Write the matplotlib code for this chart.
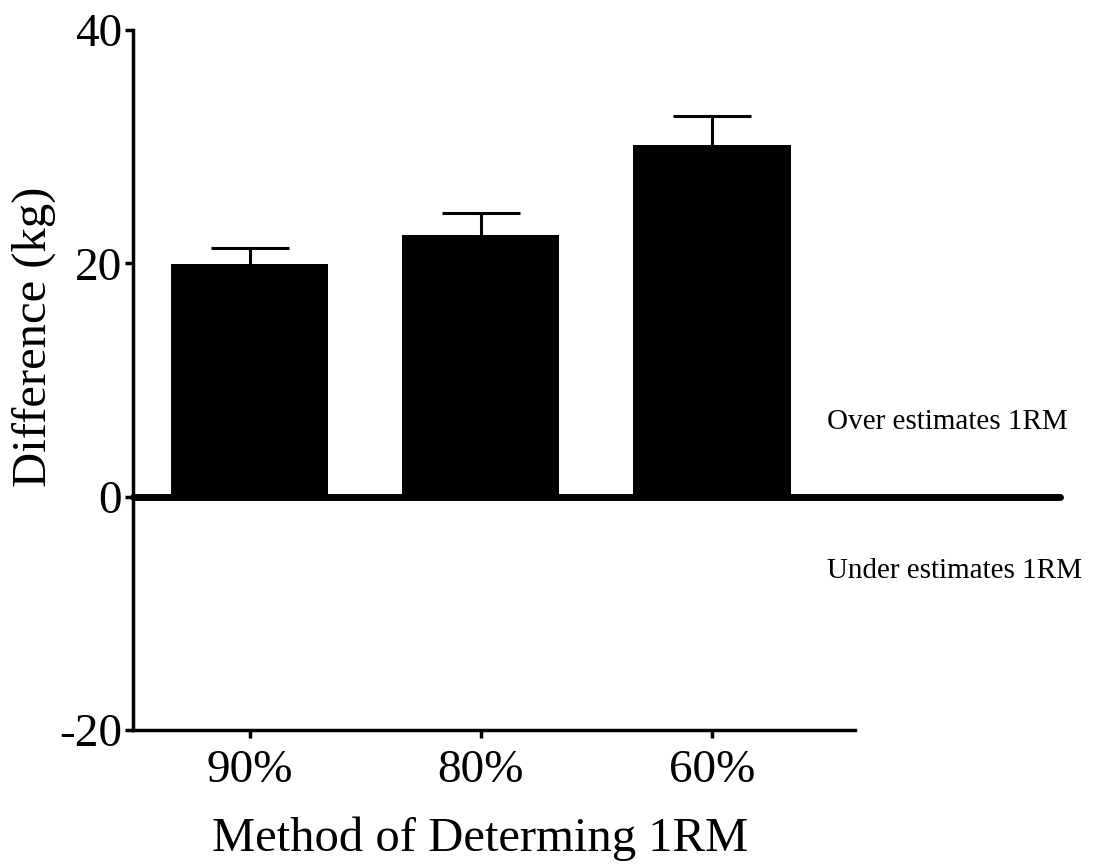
import numpy as np
import matplotlib.pyplot as plt

# data
methods = ['90%', '80%', '60%']
difference = [19.9, 22.4, 30.1]
sem = [1.45, 1.9, 2.5]

plt.rcParams['font.family'] = ['Liberation Serif', 'DejaVu Serif']
plt.rcParams['axes.unicode_minus'] = False

fig = plt.figure(figsize=(10.95, 8.66), dpi=100)
ax = fig.add_axes([0.1215, 0.157, 0.781 - 0.1215, 0.9654 - 0.157])

x = np.arange(len(methods))
ax.bar(x, difference, width=0.68, color='black', zorder=2)
eb = ax.errorbar(x, difference, yerr=[np.zeros(len(sem)), sem], fmt='none',
                 ecolor='black', elinewidth=2.2, capsize=28, capthick=2.2, zorder=1)
# only keep the upper caps
eb[1][0].set_visible(False)

# zero line running past the right end of the axes
ax.plot([0, 1.284], [0, 0], transform=ax.get_yaxis_transform(),
        color='black', lw=5, clip_on=False, solid_capstyle='round', zorder=3)

ax.text(2.50, 6.4, 'Over estimates 1RM', fontsize=21, va='center', ha='left')
ax.text(2.50, -6.4, 'Under estimates 1RM', fontsize=21, va='center', ha='left')

ax.set_xlim(-0.506, 2.62)
ax.set_ylim(-20, 40)
ax.set_yticks([-20, 0, 20, 40])
ax.set_xticks(x)
ax.set_xticklabels(methods)

for side in ['top', 'right']:
    ax.spines[side].set_visible(False)
for side in ['left', 'bottom']:
    ax.spines[side].set_linewidth(2.5)

ax.tick_params(axis='both', direction='out', length=6, width=2.5, labelsize=34, pad=2)
ax.tick_params(axis='x', pad=8)

ax.set_ylabel('Difference (kg)', fontsize=35, labelpad=2)
ax.set_xlabel('Method of Determing 1RM', fontsize=35, labelpad=18)
ax.yaxis.label.set_y(0.561)
ax.xaxis.label.set_x(0.481)

fig.savefig('out.png', dpi=100)
